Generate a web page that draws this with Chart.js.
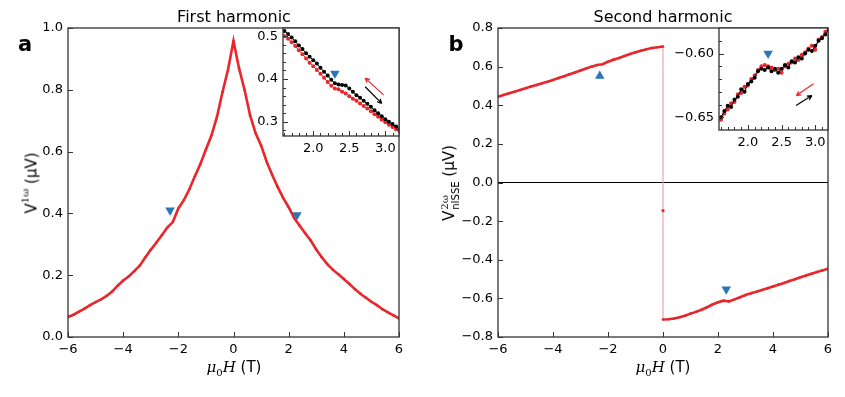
<!DOCTYPE html>
<html lang="en">
<head>
<meta charset="UTF-8">
<title>First and second harmonic</title>
<script src="https://cdn.jsdelivr.net/npm/chart.js@4"></script>
<style>
    body { margin: 0; background: #fff; font-family: "DejaVu Sans", sans-serif; color: #000; }
    #wrap { position: relative; width: 845px; height: 397px; overflow: hidden; }
    canvas { position: absolute; }
    .txt { position: absolute; white-space: nowrap; transform: translate(-50%, -50%); }
    .title { font-size: 16px; }
    .panel { font-size: 21px; font-weight: bold; }
    .xlab { font-size: 15px; }
    .ylab { font-size: 15px; transform: translate(-50%, -50%) rotate(-90deg); }
    .m { font-family: "DejaVu Serif", serif; font-style: italic; }
    .sup { font-family: "DejaVu Serif", serif; font-size: 10px; vertical-align: 8px; }
    .sub0 { font-family: "DejaVu Serif", serif; font-size: 10px; vertical-align: -4px; }
    .ss { display: inline-block; vertical-align: -5px; line-height: 11px; margin-left: 1px; }
    .ss span { display: block; font-size: 10px; }
</style>
</head>
<body>
<div id="wrap">
    <canvas id="mainA" width="420" height="397" style="left:0;top:0"></canvas>
    <canvas id="mainB" width="425" height="397" style="left:420px;top:0"></canvas>
    <canvas id="insetA" width="170" height="150" style="left:240px;top:10px"></canvas>
    <canvas id="insetB" width="180" height="150" style="left:660px;top:10px"></canvas>

    <div class="txt title" style="left:234px;top:16px">First harmonic</div>
    <div class="txt title" style="left:663px;top:16px">Second harmonic</div>
    <div class="txt panel" style="left:25px;top:44px">a</div>
    <div class="txt panel" style="left:456px;top:44px">b</div>
    <div class="txt xlab" style="left:234px;top:368px"><span class="m">μ</span><span class="sub0">0</span><span class="m">H</span> (T)</div>
    <div class="txt xlab" style="left:663px;top:368px"><span class="m">μ</span><span class="sub0">0</span><span class="m">H</span> (T)</div>
    <div class="txt ylab" style="left:30px;top:183px">V<span class="sup">1ω</span> (μV)</div>
    <div class="txt ylab" style="left:450px;top:183px">V<span class="ss"><span style="font-family:'DejaVu Serif',serif">2ω</span><span>nISSE</span></span> (μV)</div>
</div>

<script>
    // ---- data ----
    // panel a: first harmonic, field in T, voltage in uV
    const fieldMain = [-6.0, -5.8, -5.6, -5.4, -5.2, -5.0, -4.8, -4.6, -4.4, -4.2, -4.0, -3.8, -3.6, -3.4, -3.2, -3.0,
        -2.8, -2.6, -2.4, -2.2, -2.0, -1.8, -1.6, -1.4, -1.2, -1.0, -0.8, -0.6, -0.4, -0.2, 0.0,
        0.2, 0.4, 0.6, 0.8, 1.0, 1.2, 1.4, 1.6, 1.8, 2.0, 2.2, 2.4, 2.6, 2.8, 3.0,
        3.2, 3.4, 3.6, 3.8, 4.0, 4.2, 4.4, 4.6, 4.8, 5.0, 5.2, 5.4, 5.6, 5.8, 6.0];
    const v1w = [0.065, 0.072, 0.082, 0.092, 0.103, 0.113, 0.122, 0.133, 0.147, 0.166, 0.183, 0.196, 0.213, 0.231, 0.257, 0.282,
        0.305, 0.329, 0.354, 0.372, 0.416, 0.443, 0.478, 0.520, 0.560, 0.607, 0.652, 0.712, 0.792, 0.865, 0.958,
        0.870, 0.800, 0.718, 0.660, 0.620, 0.568, 0.525, 0.486, 0.450, 0.420, 0.385, 0.360, 0.336, 0.312, 0.283,
        0.258, 0.236, 0.218, 0.203, 0.188, 0.172, 0.155, 0.140, 0.127, 0.114, 0.103, 0.090, 0.080, 0.070, 0.060];

    // panel b: second harmonic, two branches and the jump at zero field
    const fieldNeg = [-6.0, -5.8, -5.6, -5.4, -5.2, -5.0, -4.8, -4.6, -4.4, -4.2, -4.0, -3.8, -3.6, -3.4, -3.2, -3.0,
        -2.8, -2.6, -2.4, -2.2, -2.0, -1.8, -1.6, -1.4, -1.2, -1.0, -0.8, -0.6, -0.4, -0.2, 0.0];
    const v2wUp = [0.444, 0.453, 0.462, 0.470, 0.479, 0.488, 0.497, 0.505, 0.514, 0.522, 0.531, 0.541, 0.550, 0.560, 0.570, 0.580,
        0.590, 0.600, 0.608, 0.612, 0.625, 0.636, 0.645, 0.655, 0.665, 0.674, 0.682, 0.690, 0.696, 0.700, 0.704];
    const fieldPos = [0.0, 0.2, 0.4, 0.6, 0.8, 1.0, 1.2, 1.4, 1.6, 1.8, 2.0, 2.2, 2.4, 2.6, 2.8, 3.0,
        3.2, 3.4, 3.6, 3.8, 4.0, 4.2, 4.4, 4.6, 4.8, 5.0, 5.2, 5.4, 5.6, 5.8, 6.0];
    const v2wDown = [-0.709, -0.708, -0.704, -0.698, -0.690, -0.679, -0.670, -0.659, -0.646, -0.632, -0.620, -0.612, -0.616, -0.605, -0.594, -0.583,
        -0.574, -0.566, -0.557, -0.548, -0.538, -0.529, -0.520, -0.510, -0.501, -0.491, -0.482, -0.473, -0.464, -0.455, -0.446];
    const jumpField = [0.0, 0.0, 0.0];
    const jumpV = [0.704, -0.146, -0.709];
    const zeroField = [-6, 6];
    const zeroV = [0, 0];

    // insets: sweep up (black) and sweep down (red) around the 2.3 T feature
    const fieldIn = [1.60, 1.65, 1.70, 1.75, 1.80, 1.85, 1.90, 1.95, 2.00, 2.05, 2.10, 2.15, 2.20, 2.25, 2.30, 2.35, 2.40,
        2.45, 2.50, 2.55, 2.60, 2.65, 2.70, 2.75, 2.80, 2.85, 2.90, 2.95, 3.00, 3.05, 3.10, 3.15, 3.20];
    const insetA_up = [0.512, 0.505, 0.497, 0.488, 0.478, 0.470, 0.460, 0.452, 0.444, 0.436, 0.426, 0.417, 0.408, 0.398, 0.390, 0.387, 0.386,
        0.385, 0.378, 0.370, 0.362, 0.356, 0.349, 0.342, 0.335, 0.327, 0.320, 0.313, 0.306, 0.300, 0.295, 0.289, 0.283];
    const insetA_down = [0.500, 0.494, 0.486, 0.477, 0.467, 0.458, 0.448, 0.438, 0.430, 0.421, 0.412, 0.403, 0.393, 0.384, 0.378, 0.376, 0.370,
        0.366, 0.360, 0.354, 0.349, 0.343, 0.337, 0.331, 0.325, 0.318, 0.312, 0.305, 0.299, 0.293, 0.288, 0.283, 0.278];
    const insetB_up = [-0.650, -0.645, -0.641, -0.642, -0.636, -0.634, -0.628, -0.630, -0.624, -0.622, -0.619, -0.614, -0.612, -0.613, -0.611, -0.614, -0.612,
        -0.615, -0.612, -0.609, -0.611, -0.606, -0.607, -0.603, -0.604, -0.600, -0.597, -0.598, -0.594, -0.590, -0.588, -0.585, -0.582];
    const insetB_down = [-0.652, -0.647, -0.644, -0.639, -0.638, -0.632, -0.631, -0.626, -0.625, -0.620, -0.617, -0.613, -0.610, -0.609, -0.610, -0.611, -0.613,
        -0.612, -0.615, -0.610, -0.608, -0.607, -0.604, -0.605, -0.601, -0.599, -0.596, -0.594, -0.597, -0.589, -0.587, -0.583, -0.580];

    // triangle markers
    const markA_x = [-2.3, 2.3], markA_y = [0.41, 0.395];
    const markBup_x = [-2.3], markBup_y = [0.551];
    const markBdown_x = [2.3], markBdown_y = [-0.553];
    const markInA_x = [2.3], markInA_y = [0.413];
    const markInB_x = [2.3], markInB_y = [-0.600];

    // sweep-direction arrows [x0, y0, x1, y1], head at (x1, y1)
    const arrowsInA = [[2.976, 0.363, 2.72, 0.402], [2.72, 0.382, 2.95, 0.343]];
    const arrowsInB = [[2.975, -0.6237, 2.72, -0.633], [2.716, -0.6408, 2.95, -0.633]];

    // minor tick values for the insets
    const minorInA_x = [1.6, 1.7, 1.8, 1.9, 2.1, 2.2, 2.3, 2.4, 2.6, 2.7, 2.8, 2.9, 3.1];
    const minorInA_y = [0.28, 0.32, 0.34, 0.36, 0.38, 0.42, 0.44, 0.46, 0.48];
    const minorInB_x = [1.6, 1.7, 1.8, 1.9, 2.1, 2.2, 2.3, 2.4, 2.6, 2.7, 2.8, 2.9, 3.1];
    const minorInB_y = [-0.64, -0.63, -0.62, -0.61, -0.59];

    const RED = '#e8262b';
    const BLUE = '#2878b8';
    const FRAME = '#333';

    const pts = (xs, ys) => xs.map((x, i) => ({ x: x, y: ys[i] }));
    const minus = s => String(s).replace('-', '\u2212');

    // frame on all sides, inward ticks on bottom/left, arrows
    const axesDeco = {
        id: 'axesDeco',
        beforeDatasetsDraw(chart, args, o) {
            const a = chart.chartArea, ctx = chart.ctx;
            if (o.fill) {
                ctx.save();
                ctx.fillStyle = '#fff';
                ctx.fillRect(a.left, a.top, a.right - a.left, a.bottom - a.top);
                ctx.restore();
            }
        },
        afterDraw(chart, args, o) {
            const a = chart.chartArea, ctx = chart.ctx;
            const sx = chart.scales.x, sy = chart.scales.y;
            ctx.save();
            ctx.strokeStyle = FRAME;
            ctx.lineWidth = 1.3;
            ctx.strokeRect(a.left, a.top, a.right - a.left, a.bottom - a.top);
            ctx.lineWidth = 1;
            ctx.beginPath();
            sx.ticks.forEach(t => {
                const px = Math.round(sx.getPixelForValue(t.value)) + 0.5;
                ctx.moveTo(px, a.bottom); ctx.lineTo(px, a.bottom - 5);
            });
            sy.ticks.forEach(t => {
                const py = Math.round(sy.getPixelForValue(t.value)) + 0.5;
                ctx.moveTo(a.left, py); ctx.lineTo(a.left + 5, py);
            });
            (o.minorX || []).forEach(v => {
                const px = Math.round(sx.getPixelForValue(v)) + 0.5;
                ctx.moveTo(px, a.bottom); ctx.lineTo(px, a.bottom - 3);
            });
            (o.minorY || []).forEach(v => {
                const py = Math.round(sy.getPixelForValue(v)) + 0.5;
                ctx.moveTo(a.left, py); ctx.lineTo(a.left + 3, py);
            });
            ctx.stroke();

            (o.arrows || []).forEach((ar, i) => {
                const x0 = sx.getPixelForValue(ar[0]), y0 = sy.getPixelForValue(ar[1]);
                const x1 = sx.getPixelForValue(ar[2]), y1 = sy.getPixelForValue(ar[3]);
                const ang = Math.atan2(y1 - y0, x1 - x0);
                ctx.strokeStyle = o.arrowColors[i];
                ctx.lineWidth = 1.2;
                ctx.beginPath();
                ctx.moveTo(x0, y0); ctx.lineTo(x1, y1);
                ctx.moveTo(x1, y1);
                ctx.lineTo(x1 - 5 * Math.cos(ang - 0.45), y1 - 5 * Math.sin(ang - 0.45));
                ctx.moveTo(x1, y1);
                ctx.lineTo(x1 - 5 * Math.cos(ang + 0.45), y1 - 5 * Math.sin(ang + 0.45));
                ctx.stroke();
            });
            ctx.restore();
        }
    };

    Chart.defaults.font.family = '"DejaVu Sans", sans-serif';
    Chart.defaults.font.size = 13;
    Chart.defaults.color = '#000';

    function axis(min, max, step, fmt, size, isX) {
        return {
            type: 'linear', min: min, max: max,
            grid: { display: false, drawTicks: false },
            border: { display: false },
            ticks: {
                stepSize: step, includeBounds: false, autoSkip: false, maxRotation: 0,
                padding: isX ? 5 : 5,
                callback: v => minus(Number(v).toFixed(fmt))
            },
            afterFit: s => { if (isX) s.height = size; else s.width = size; }
        };
    }

    function curve(data, color, width, radius, order) {
        return {
            data: data, showLine: true, borderColor: color, backgroundColor: color,
            borderWidth: width, pointRadius: radius, pointBorderWidth: 0, order: order || 0
        };
    }

    function marker(data, rot) {
        return {
            data: data, showLine: false, pointStyle: 'triangle', rotation: rot,
            pointRadius: 5.5, backgroundColor: BLUE, borderColor: BLUE, borderWidth: 0, order: -1
        };
    }

    function base(pad, xs, ys, deco) {
        return {
            responsive: false, animation: false, devicePixelRatio: 1,
            layout: { padding: pad },
            plugins: { legend: { display: false }, tooltip: { enabled: false }, axesDeco: deco },
            scales: { x: xs, y: ys }
        };
    }

    new Chart(document.getElementById('mainA'), {
        type: 'scatter',
        data: { datasets: [
            curve(pts(fieldMain, v1w), RED, 2.6, 1.3),
            marker(pts(markA_x, markA_y), 180)
        ] },
        options: base({ left: 0, right: 21, top: 28, bottom: 0 },
            axis(-6, 6, 2, 0, 60, true), axis(0, 1, 0.2, 1, 68, false), {}),
        plugins: [axesDeco]
    });

    new Chart(document.getElementById('mainB'), {
        type: 'scatter',
        data: { datasets: [
            curve(pts(zeroField, zeroV), '#000', 1.2, 0, 3),
            curve(pts(jumpField, jumpV), '#f5a3a3', 1.2, 0, 2),
            { data: pts([jumpField[1]], [jumpV[1]]), pointRadius: 1.6, backgroundColor: RED, borderWidth: 0, order: 1 },
            curve(pts(fieldNeg, v2wUp), RED, 2.6, 1.3),
            curve(pts(fieldPos, v2wDown), RED, 2.6, 1.3),
            marker(pts(markBup_x, markBup_y), 0),
            marker(pts(markBdown_x, markBdown_y), 180)
        ] },
        options: base({ left: 0, right: 17, top: 28, bottom: 0 },
            axis(-6, 6, 2, 0, 60, true), axis(-0.8, 0.8, 0.2, 1, 78, false), {}),
        plugins: [axesDeco]
    });

    new Chart(document.getElementById('insetA'), {
        type: 'scatter',
        data: { datasets: [
            curve(pts(fieldIn, insetA_up), '#000', 1, 2, 0),
            curve(pts(fieldIn, insetA_down), RED, 1, 2, 1),
            marker(pts(markInA_x, markInA_y), 180)
        ] },
        options: base({ left: 0, right: 11, top: 18, bottom: 0 },
            axis(1.58, 3.19, 0.5, 1, 24, true), axis(0.267, 0.519, 0.1, 1, 43, false),
            { fill: true, minorX: minorInA_x, minorY: minorInA_y, arrows: arrowsInA, arrowColors: [RED, '#000'] }),
        plugins: [axesDeco]
    });

    new Chart(document.getElementById('insetB'), {
        type: 'scatter',
        data: { datasets: [
            curve(pts(fieldIn, insetB_up), '#000', 1, 2, 0),
            curve(pts(fieldIn, insetB_down), RED, 1, 2, 1),
            marker(pts(markInB_x, markInB_y), 180)
        ] },
        options: base({ left: 0, right: 12, top: 18, bottom: 0 },
            axis(1.57, 3.19, 0.5, 1, 30, true), axis(-0.660, -0.580, 0.05, 2, 59, false),
            { fill: true, minorX: minorInB_x, minorY: minorInB_y, arrows: arrowsInB, arrowColors: [RED, '#000'] }),
        plugins: [axesDeco]
    });
</script>
</body>
</html>
